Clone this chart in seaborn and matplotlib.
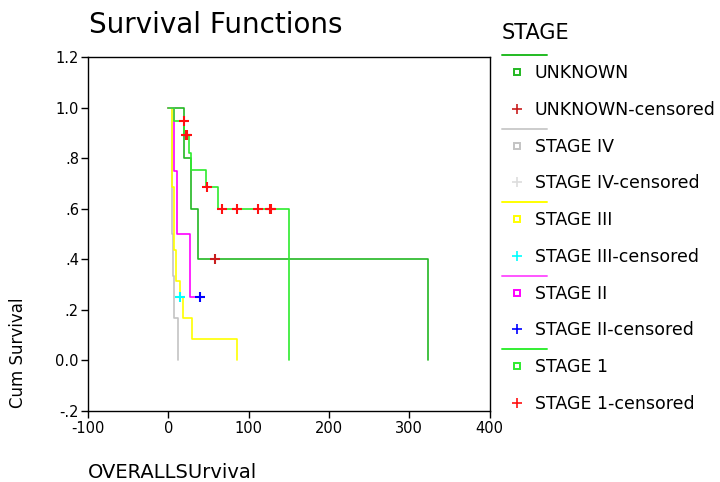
import matplotlib
matplotlib.use("Agg")
import matplotlib.pyplot as plt
from matplotlib.lines import Line2D
import numpy as np
import pandas as pd
import seaborn as sns

# Kaplan-Meier step data per stage: event times, survival after each event, censor times
groups = ["UNKNOWN", "STAGE IV", "STAGE III", "STAGE II", "STAGE 1"]

unknown_t = [20, 28, 37, 323]
unknown_s = [0.80, 0.60, 0.40, 0.0]
unknown_cens = [58]

stage4_t = [4.5, 6, 7.5, 12]
stage4_s = [0.50, 0.333, 0.167, 0.0]
stage4_cens = []

stage3_t = [5, 6.5, 10, 14, 18, 30, 86]
stage3_s = [0.6875, 0.4375, 0.3125, 0.25, 0.1667, 0.0833, 0.0]
stage3_cens = [14]

stage2_t = [7.5, 11, 26.5]
stage2_s = [0.75, 0.50, 0.25]
stage2_cens = [39]

stage1_t = [7, 20, 26, 28, 47, 62, 150]
stage1_s = [0.946, 0.893, 0.82, 0.755, 0.686, 0.60, 0.0]
stage1_cens = [19, 22, 23, 48.5, 67, 86, 112, 126, 128]

line_colors = ["#22B822", "#C4C4C4", "#FFFF00", "#FF00FF", "#2EEB2E"]
legend_line_colors = ["#22BB22", "#CCCCCC", "#FFFF00", "#FF55FF", "#33EE33"]
cens_colors = ["#C81E1E", "#DDDDDD", "#00FFFF", "#0000FF", "#FF1010"]

series = {
    "UNKNOWN": (unknown_t, unknown_s, unknown_cens),
    "STAGE IV": (stage4_t, stage4_s, stage4_cens),
    "STAGE III": (stage3_t, stage3_s, stage3_cens),
    "STAGE II": (stage2_t, stage2_s, stage2_cens),
    "STAGE 1": (stage1_t, stage1_s, stage1_cens),
}


def surv_at(times, surv, t):
    val = 1.0
    for ti, si in zip(times, surv):
        if ti <= t:
            val = si
    return val


rows = []
cens_rows = []
for g in groups:
    times, surv, cens = series[g]
    rows.append((g, 0.0, 1.0))
    for ti, si in zip(times, surv):
        rows.append((g, ti, si))
    if cens and max(cens) > times[-1]:
        rows.append((g, max(cens), surv[-1]))
    for c in cens:
        cens_rows.append((g, c, surv_at(times, surv, c)))

curves = pd.DataFrame(rows, columns=["stage", "time", "surv"])
censored = pd.DataFrame(cens_rows, columns=["stage", "time", "surv"])

sns.set_style("ticks")
plt.rcParams["font.family"] = ["DejaVu Sans"]
plt.rcParams["text.color"] = "black"
plt.rcParams["xtick.color"] = "black"
plt.rcParams["ytick.color"] = "black"

W, H = 720, 482
fig = plt.figure(figsize=(W / 100, H / 100), dpi=100)
ax = fig.add_axes([88 / W, 1 - 411 / H, (489.7 - 88) / W, (411 - 57) / H])

sns.lineplot(data=curves, x="time", y="surv", hue="stage", hue_order=groups,
             palette=dict(zip(groups, line_colors)), drawstyle="steps-post",
             estimator=None, sort=False, legend=False, linewidth=1.2, ax=ax)

for g, col in zip(groups, cens_colors):
    sub = censored[censored["stage"] == g]
    if len(sub):
        ax.plot(sub["time"], sub["surv"], linestyle="none", marker="+",
                markersize=6.5, markeredgewidth=1.5, color=col, zorder=5)

ax.set_xlim(-100, 400)
ax.set_ylim(-0.2, 1.2)
ax.set_xticks([-100, 0, 100, 200, 300, 400])
ax.set_xticklabels(["-100", "0", "100", "200", "300", "400"])
yt = [-0.2, 0.0, 0.2, 0.4, 0.6, 0.8, 1.0, 1.2]
ax.set_yticks(yt)
ax.set_yticklabels(["-.2", "0.0", ".2", ".4", ".6", ".8", "1.0", "1.2"])
ax.tick_params(axis="both", direction="out", length=5, width=1, color="black",
               labelsize=10.5, labelcolor="black")
ax.tick_params(axis="y", pad=1.5)
ax.tick_params(axis="x", pad=2)
ax.set_xlabel("")
ax.set_ylabel("")
for sp in ax.spines.values():
    sp.set_visible(True)
    sp.set_color("black")
    sp.set_linewidth(1.0)


def fx(px):
    return px / W


def fy(py):
    return 1 - py / H


fig.text(fx(89), fy(33.3), "Survival Functions", fontsize=20, ha="left", va="baseline")
fig.text(fx(88), fy(477.5), "OVERALLSUrvival", fontsize=14, ha="left", va="baseline")
fig.text(fx(18), fy(353), "Cum Survival", fontsize=12, rotation=90, ha="center", va="center")

# Legend drawn in figure space: a coloured rule per stage, then event and censor entries
fig.text(fx(502), fy(39), "STAGE", fontsize=15, ha="left", va="baseline")
for k, g in enumerate(groups):
    g0 = 55 + k * 73.5
    fig.add_artist(Line2D([fx(502), fx(547)], [fy(g0), fy(g0)],
                          color=legend_line_colors[k], linewidth=1.4))
    fig.add_artist(Line2D([fx(517)], [fy(g0 + 17)], marker="s", markersize=4,
                          markerfacecolor="white", markeredgecolor=line_colors[k],
                          markeredgewidth=1.4, linestyle="none"))
    fig.text(fx(535), fy(g0 + 17 + 6.3), g, fontsize=12.5, ha="left", va="baseline")
    fig.add_artist(Line2D([fx(517)], [fy(g0 + 53.5)], marker="+", markersize=7,
                          markeredgecolor=cens_colors[k], markeredgewidth=1.2,
                          linestyle="none"))
    fig.text(fx(535), fy(g0 + 53.5 + 6.3), g + "-censored", fontsize=12.5,
             ha="left", va="baseline")

fig.savefig("out.png", dpi=100)
